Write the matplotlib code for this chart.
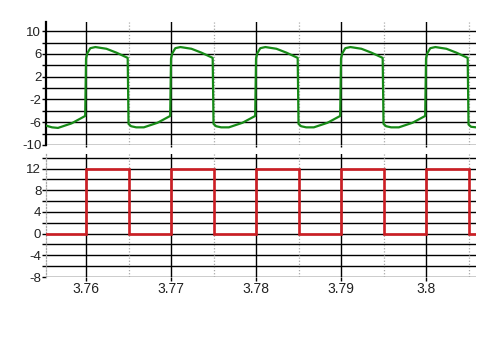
import matplotlib
matplotlib.use("Agg")
import matplotlib.pyplot as plt
from matplotlib.ticker import FixedLocator, FuncFormatter

plt.rcParams['font.family'] = ['Liberation Sans', 'DejaVu Sans']

# ---- data ----
green_t = [3.7553, 3.7560, 3.7567, 3.7583, 3.7599,
           3.7600, 3.76015, 3.7605, 3.7611, 3.7624, 3.7636, 3.7649,
           3.7650, 3.7653, 3.7659, 3.7668, 3.7684, 3.7699,
           3.7700, 3.77015, 3.7705, 3.7711, 3.7724, 3.7736, 3.7749,
           3.7750, 3.7753, 3.7759, 3.7768, 3.7784, 3.7799,
           3.7800, 3.78015, 3.7805, 3.7811, 3.7824, 3.7836, 3.7849,
           3.7850, 3.7853, 3.7859, 3.7868, 3.7884, 3.7899,
           3.7900, 3.79015, 3.7905, 3.7911, 3.7924, 3.7936, 3.7949,
           3.7950, 3.7953, 3.7959, 3.7968, 3.7984, 3.7999,
           3.8000, 3.80015, 3.8005, 3.8011, 3.8024, 3.8036, 3.8049,
           3.8050, 3.8053, 3.8059]
green_v = [-6.6, -6.9, -7.0, -6.2, -4.9,
           5.2, 6.1, 7.0, 7.2, 6.9, 6.2, 5.3,
           -6.3, -6.7, -6.9, -6.9, -6.1, -4.9,
           5.2, 6.1, 7.0, 7.2, 6.9, 6.2, 5.3,
           -6.3, -6.7, -6.9, -6.9, -6.1, -4.9,
           5.2, 6.1, 7.0, 7.2, 6.9, 6.2, 5.3,
           -6.3, -6.7, -6.9, -6.9, -6.1, -4.9,
           5.2, 6.1, 7.0, 7.2, 6.9, 6.2, 5.3,
           -6.3, -6.7, -6.9, -6.9, -6.1, -4.9,
           5.2, 6.1, 7.0, 7.2, 6.9, 6.2, 5.3,
           -6.4, -6.8, -6.9]

red_t = [3.7553, 3.7600, 3.7600, 3.7650, 3.7650, 3.7651, 3.7651,
         3.7700, 3.7700, 3.7750, 3.7750,
         3.7800, 3.7800, 3.7850, 3.7850,
         3.7900, 3.7900, 3.7950, 3.7950,
         3.8000, 3.8000, 3.8050, 3.8050, 3.8059]
red_v = [0, 0, 12, 12, 3.5, 3.5, 0,
         0, 12, 12, 0,
         0, 12, 12, 0,
         0, 12, 12, 0,
         0, 12, 12, 0, 0]

x_ticks = [3.76, 3.77, 3.78, 3.79, 3.80]
x_ticklabels = ['3.76', '3.77', '3.78', '3.79', '3.8']
x_minor = [3.765, 3.775, 3.785, 3.795, 3.805]
top_labels = [10, 6, 2, -2, -6, -10]
bot_labels = [12, 8, 4, 0, -4, -8]

xlim = (3.75529, 3.80588)

fig = plt.figure(figsize=(4.95, 3.51), dpi=100)
W, H = 495, 351
def ax_rect(x0, y0, x1, y1):
    return [x0 / W, 1 - y1 / H, (x1 - x0) / W, (y1 - y0) / H]

ax1 = fig.add_axes(ax_rect(46, 22, 476, 145))
ax2 = fig.add_axes(ax_rect(46, 154, 476, 277))

def style(ax, ylo, yhi, gridvals, labels):
    ax.set_xlim(*xlim)
    ax.set_ylim(ylo, yhi)
    for s in ['top', 'right', 'bottom']:
        ax.spines[s].set_visible(False)
    for g in gridvals:
        ax.axhline(g, color='black', lw=1.0, zorder=1)
    for m in x_minor:
        ax.axvline(m, color='#a8a8a8', lw=0.9, ls=(0, (1, 1.5)), zorder=1)
    for t in x_ticks:
        ax.axvline(t, color='black', lw=1.0, zorder=1)
    ax.yaxis.set_major_locator(FixedLocator(gridvals))
    ax.yaxis.set_major_formatter(FuncFormatter(
        lambda v, p: ('%d' % round(v)) if round(v) in labels else ''))
    ax.tick_params(axis='y', length=2.9, width=1.0, pad=0.5, labelsize=9.5,
                   colors='black', labelcolor='#222222')
    ax.set_xticks(x_ticks)
    ax.tick_params(axis='x', length=2.9, width=1.0, pad=0.5, labelsize=10,
                   colors='black', labelcolor='#222222')

style(ax1, -10, 11.6, list(range(-10, 11, 2)), top_labels)
style(ax2, -8, 14.7, list(range(-8, 15, 2)), bot_labels)

ax1.spines['left'].set_color('black')
ax1.spines['left'].set_linewidth(1.6)
ax2.spines['left'].set_color('#a8a8a8')
ax2.spines['left'].set_linewidth(0.9)
ax2.spines['left'].set_linestyle((0, (1, 1.5)))

ax1.tick_params(axis='x', labelbottom=False, length=1.5)
ax2.set_xticklabels(x_ticklabels)

ax1.plot(green_t, green_v, color='#178a17', lw=1.6, zorder=3,
         solid_joinstyle='round')
ax2.plot(red_t, red_v, color='#cc1e24', lw=1.9, zorder=3,
         solid_joinstyle='miter')

fig.savefig('out.png', dpi=100)
